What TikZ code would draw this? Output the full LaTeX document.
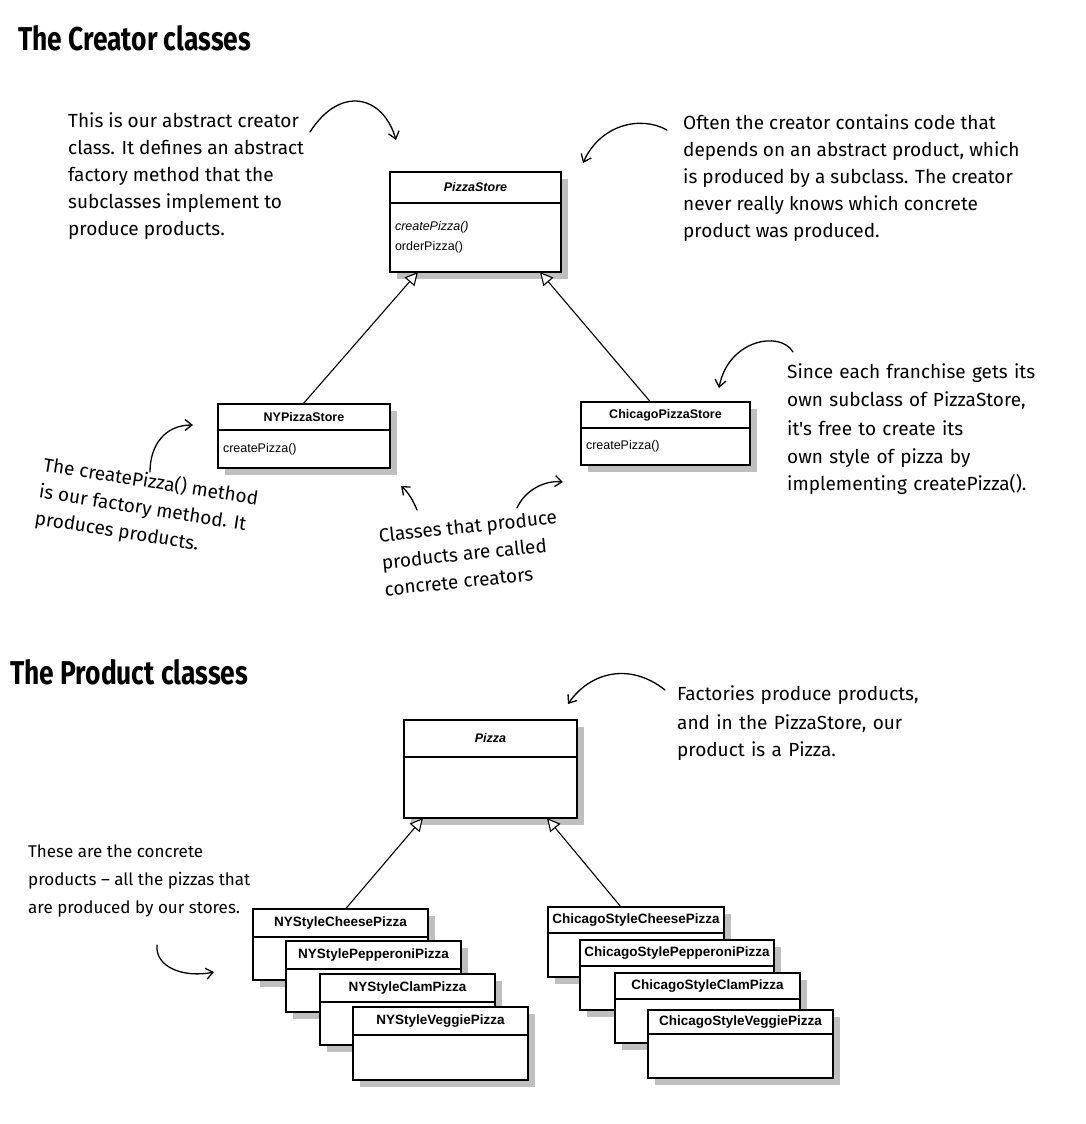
\documentclass[tikz,border=0pt]{standalone}
\usepackage{fontspec}
\usetikzlibrary{arrows.meta,shadows}
\newfontfamily\umlfont{Liberation Sans}
\newfontfamily\handfont{Fira Sans}
\newfontfamily\titlefont[FakeStretch=0.8]{Fira Sans}

\tikzset{
  boxshadow/.style={drop shadow={shadow xshift=7pt, shadow yshift=-7pt, fill=black!50}},
  classhead/.style={draw, fill=white, line width=1.1pt, outer sep=0pt, inner sep=2pt,
    anchor=north west, boxshadow, font=\umlfont\bfseries\fontsize{12.5}{14}\selectfont},
  classbody/.style={draw, fill=white, line width=1.1pt, outer sep=0pt, inner xsep=5pt,
    inner ysep=0pt, anchor=north west, align=left, boxshadow,
    font=\umlfont\fontsize{12.5}{20}\selectfont},
  pizzahead/.style={classhead, font=\umlfont\bfseries\fontsize{13.5}{15}\selectfont},
  note/.style={anchor=north west, align=left, inner sep=0pt,
    font=\handfont\fontsize{19}{27}\selectfont},
  title/.style={anchor=west, inner sep=0pt, font=\titlefont\bfseries\fontsize{33}{34}\selectfont},
  pointer/.style={-{Straight Barb[length=7pt,width=11pt]}, line width=1.3pt, line cap=round},
  inherit/.style={-{Triangle[open, length=13pt, width=13pt, fill=white]}, line width=1.1pt}
}

\begin{document}
\begin{tikzpicture}[x=1pt, y=-1pt]
  \path[fill=white] (0,0) rectangle (1086,1124);
  \useasboundingbox (0,0) rectangle (1086,1124);

  % titles
  \node[title] (creators) at (18,38) {The Creator classes};
  \node[title] (products) at (10,672) {The Product classes};

  % creator classes
  \node[classhead, minimum width=171pt, minimum height=31pt] (ps) at (390,172) {\itshape PizzaStore};
  \node[classbody, text width=161pt, minimum height=69pt] (psb) at (ps.south west) {\textit{createPizza()}\\orderPizza()};
  \node[classhead, minimum width=172pt, minimum height=26pt] (nyps) at (218,404) {NYPizzaStore};
  \node[classbody, text width=162pt, minimum height=38pt] (nypsb) at (nyps.south west) {createPizza()};
  \node[classhead, minimum width=169pt, minimum height=26pt] (cps) at (581,402) {ChicagoPizzaStore};
  \node[classbody, text width=159pt, minimum height=37pt] (cpsb) at (cps.south west) {createPizza()};

  \draw[inherit] ([xshift=-1pt]nyps.north) -- ([xshift=28pt]psb.south west);
  \draw[inherit] ([xshift=-15pt]cps.north) -- ([xshift=-21pt]psb.south east);

  % product classes
  \node[classhead, minimum width=173pt, minimum height=37pt] (pz) at (404,720) {\itshape Pizza};
  \node[classbody, minimum width=173pt, minimum height=61pt] (pzb) at (pz.south west) {};

  \node[pizzahead, minimum width=175pt, minimum height=28pt] (nyc) at (253,909) {NYStyleCheesePizza};
  \node[classbody, minimum width=175pt, minimum height=43pt] (nycb) at (nyc.south west) {};
  \node[pizzahead, minimum width=175pt, minimum height=28pt] (nyp) at (286,941) {NYStylePepperoniPizza};
  \node[classbody, minimum width=175pt, minimum height=43pt] (nypb) at (nyp.south west) {};
  \node[pizzahead, minimum width=175pt, minimum height=28pt] (nycl) at (320,974) {NYStyleClamPizza};
  \node[classbody, minimum width=175pt, minimum height=43pt] (nyclb) at (nycl.south west) {};
  \node[pizzahead, minimum width=175pt, minimum height=28pt] (nyv) at (353,1007) {NYStyleVeggiePizza};
  \node[classbody, minimum width=175pt, minimum height=45pt] (nyvb) at (nyv.south west) {};

  \node[pizzahead, minimum width=176pt, minimum height=26pt] (chc) at (548,907) {ChicagoStyleCheesePizza};
  \node[classbody, minimum width=176pt, minimum height=44pt] (chcb) at (chc.south west) {};
  \node[pizzahead, minimum width=194pt, minimum height=26pt] (chp) at (580,940) {ChicagoStylePepperoniPizza};
  \node[classbody, minimum width=194pt, minimum height=44pt] (chpb) at (chp.south west) {};
  \node[pizzahead, minimum width=185pt, minimum height=26pt] (chcl) at (615,973) {ChicagoStyleClamPizza};
  \node[classbody, minimum width=185pt, minimum height=44pt] (chclb) at (chcl.south west) {};
  \node[pizzahead, minimum width=185pt, minimum height=24pt] (chv) at (648,1010) {ChicagoStyleVeggiePizza};
  \node[classbody, minimum width=185pt, minimum height=44pt] (chvb) at (chv.south west) {};

  \draw[inherit] ([xshift=5pt]nyc.north) -- ([xshift=19pt]pzb.south west);
  \draw[inherit] ([xshift=-15pt]chc.north) -- ([xshift=-30pt]pzb.south east);

  % notes
  \node[note] (n-abstract) at (68,112) {This is our abstract creator\\class. It defines an abstract\\factory method that the\\subclasses implement to\\produce products.};
  \node[note] (n-often) at (683,114) {Often the creator contains code that\\depends on an abstract product, which\\is produced by a subclass. The creator\\never really knows which concrete\\product was produced.};
  \node[note, text width=250pt] (n-since) at (787,363) {\baselineskip=28.5pt Since each franchise gets its\\own subclass of PizzaStore,\\it's free to create its\\own style of pizza by\\implementing createPizza().};
  \node[note, rotate=-9] (n-factory) at (45,455) {\baselineskip=28pt The createPizza() method\\is our factory method. It\\produces products.};
  \node[note, rotate=6] (n-concrete) at (378,528) {\baselineskip=28pt Classes that produce\\products are called\\concrete creators};
  \node[note, text width=250pt] (n-products) at (677,685) {\baselineskip=29pt Factories produce products,\\and in the PizzaStore, our\\product is a Pizza.};
  \node[note, font=\handfont\fontsize{17}{28}\selectfont] (n-these) at (28,845) {These are the concrete\\products – all the pizzas that\\are produced by our stores.};

  % pointer ends
  \coordinate (p1s) at (310,132);  \coordinate (p1e) at (396,140);
  \coordinate (p2s) at (667,130);  \coordinate (p2e) at (583,163);
  \coordinate (p3s) at (793,352);  \coordinate (p3e) at (719,388);
  \coordinate (p4s) at (150,472);  \coordinate (p4e) at (193,425);
  \coordinate (p5s) at (417,510);  \coordinate (p5e) at (401,486);
  \coordinate (p6s) at (517,508);  \coordinate (p6e) at (563,482);
  \coordinate (p7s) at (665,690);  \coordinate (p7e) at (568,704);
  \coordinate (p8s) at (157,945);  \coordinate (p8e) at (214,972);

  \draw[pointer] (p1s) .. controls (340,85) and (383,95) .. (p1e);
  \draw[pointer] (p2s) .. controls (640,115) and (600,125) .. (p2e);
  \draw[pointer] (p3s) .. controls (780,330) and (728,340) .. (p3e);
  \draw[pointer] (p4s) .. controls (150,445) and (165,425) .. (p4e);
  \draw[pointer] (p5s) .. controls (413,500) and (408,492) .. (p5e);
  \draw[pointer] (p6s) .. controls (525,490) and (545,480) .. (p6e);
  \draw[pointer] (p7s) .. controls (630,662) and (590,672) .. (p7e);
  \draw[pointer] (p8s) .. controls (155,968) and (185,978) .. (p8e);
\end{tikzpicture}
\end{document}
